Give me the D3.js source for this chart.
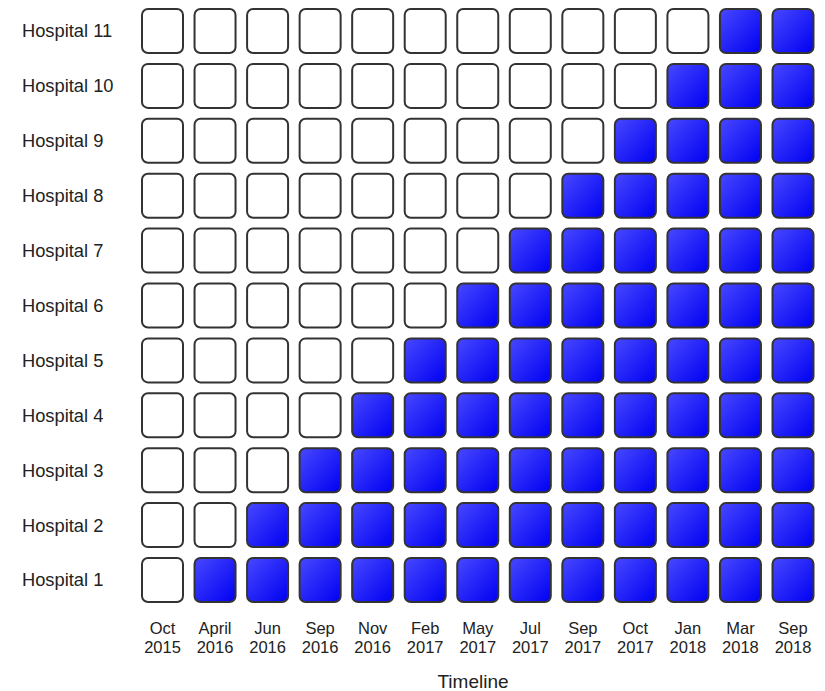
<!DOCTYPE html>
<html>
<head>
<meta charset="utf-8">
<script src="https://cdn.jsdelivr.net/npm/d3@7"></script>
<style>
  body { margin: 0; background: #fff; }
  text { font-family: "Liberation Sans", Arial, sans-serif; fill: #222; }
</style>
</head>
<body>
<div id="chart"></div>
<script>
// hospitals, top to bottom
var hospitals = ["Hospital 11", "Hospital 10", "Hospital 9", "Hospital 8", "Hospital 7",
	"Hospital 6", "Hospital 5", "Hospital 4", "Hospital 3", "Hospital 2", "Hospital 1"];
// timeline ticks (month, year)
var months = ["Oct", "April", "Jun", "Sep", "Nov", "Feb", "May", "Jul", "Sep", "Oct", "Jan", "Mar", "Sep"];
var years = ["2015", "2016", "2016", "2016", "2016", "2017", "2017", "2017", "2017", "2017", "2018", "2018", "2018"];
// index of first intervention period for each hospital (same order as hospitals)
var switchAt = [11, 10, 9, 8, 7, 6, 5, 4, 3, 2, 1];

var width = 825, height = 691;
var boxW = 41, boxH = 44;

var svg = d3.select("#chart")
	.append("svg")
	.attr("width", width)
	.attr("height", height);

var defs = svg.append("defs");
var grad = defs.append("linearGradient")
	.attr("id", "blueGrad")
	.attr("x1", "0%").attr("y1", "0%")
	.attr("x2", "100%").attr("y2", "100%");
grad.append("stop").attr("offset", "0%").attr("stop-color", "#4848ff");
grad.append("stop").attr("offset", "100%").attr("stop-color", "#0000f2");

var cols = d3.range(months.length);

// scales
var x = d3.scalePoint()
	.domain(cols)
	.range([162.5, 793]);

var y = d3.scalePoint()
	.domain(hospitals)
	.range([31, 580]);

// build cells
var cells = [];
hospitals.forEach(function(h, i) {
	cols.forEach(function(c) {
		cells.push({ hospital: h, col: c, on: c >= switchAt[i] });
	});
});

svg.selectAll(".cell")
	.data(cells)
	.enter()
	.append("rect")
	.attr("class", "cell")
	.attr("x", function(d) { return x(d.col) - boxW / 2; })
	.attr("y", function(d) { return y(d.hospital) - boxH / 2; })
	.attr("width", boxW)
	.attr("height", boxH)
	.attr("rx", 6)
	.attr("ry", 6)
	.style("fill", function(d) { return d.on ? "url(#blueGrad)" : "#fff"; })
	.style("stroke", "#333")
	.style("stroke-width", 2);

// row labels
svg.selectAll(".rowLabel")
	.data(hospitals)
	.enter()
	.append("text")
	.attr("class", "rowLabel")
	.attr("x", 22)
	.attr("y", function(d) { return y(d); })
	.attr("dy", "0.35em")
	.style("font-size", "18.3px")
	.text(function(d) { return d; });

// column labels
var colLabel = svg.selectAll(".colLabel")
	.data(cols)
	.enter()
	.append("text")
	.attr("class", "colLabel")
	.attr("text-anchor", "middle")
	.style("font-size", "16.5px");

colLabel.append("tspan")
	.attr("x", function(d) { return x(d); })
	.attr("y", 634)
	.text(function(d) { return months[d]; });

colLabel.append("tspan")
	.attr("x", function(d) { return x(d); })
	.attr("y", 653)
	.text(function(d) { return years[d]; });

// axis title
svg.append("text")
	.attr("x", 473)
	.attr("y", 688)
	.attr("text-anchor", "middle")
	.style("font-size", "19px")
	.text("Timeline");
</script>
</body>
</html>
